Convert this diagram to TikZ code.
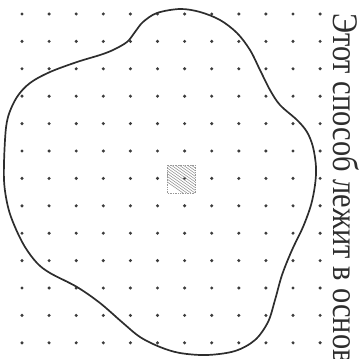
\documentclass[tikz,border=0pt]{standalone}
\usepackage{fontspec}
\setmainfont{Liberation Serif}
\newfontfamily\capfont{Liberation Serif}
\definecolor{inkgray}{RGB}{45,45,45}
\definecolor{dotgray}{RGB}{60,60,60}
\tikzset{
  outline/.style={draw=inkgray, line width=1.7pt, line join=round},
  griddot/.style={fill=dotgray, draw=none},
  cell/.style={draw=gray!80, densely dotted, line width=0.7pt},
  hatch/.style={draw=gray!90, line width=0.5pt},
  caption/.style={rotate=-90, anchor=base west, inner sep=0pt,
    text=inkgray, font=\capfont\fontsize{36}{36}\selectfont},
}

\begin{document}
\begin{tikzpicture}[x=1pt, y=-1pt]
  \useasboundingbox (0,0) rectangle (363,358);
  \clip (0,0) rectangle (363,358);
  % dot grid
  \foreach \i in {0,...,11}
    \foreach \j in {0,...,12}
      \fill[griddot] ({22+27.1*\i},{14+27.4*\j}) circle (1.7pt);
  % closed contour
  \draw[outline] plot[smooth cycle, tension=0.55] coordinates {
    (143,22) (157,13) (180,9) (200,12) (220,20) (237,33) (250,50)
    (260,70) (270,90) (280,105) (297,120) (307,132) (313,147) (316,167)
    (315,185) (311,205) (303,227) (292,250) (282,275) (275,300) (268,322)
    (255,340) (235,351) (207,355) (180,353) (160,347) (140,337) (123,323)
    (100,303) (77,287) (50,273) (37,263) (25,247) (15,227) (8,207)
    (4,180) (5,140) (8,117) (17,97) (30,83) (50,72) (77,62) (100,55)
    (113,50) (127,42) (135,32)};
  % hatched cell
  \begin{scope}
    \clip (167,165) rectangle (195,193);
    \foreach \k in {0,...,14}
      \draw[hatch] ({143+4*\k},165) -- ++(40,28);
  \end{scope}
  \draw[cell] (167,165) rectangle (195,193);
  \node[caption] (caption) at (333,13)
    {\scalebox{0.845}[1]{Этот способ лежит в основ}};
\end{tikzpicture}
\end{document}
